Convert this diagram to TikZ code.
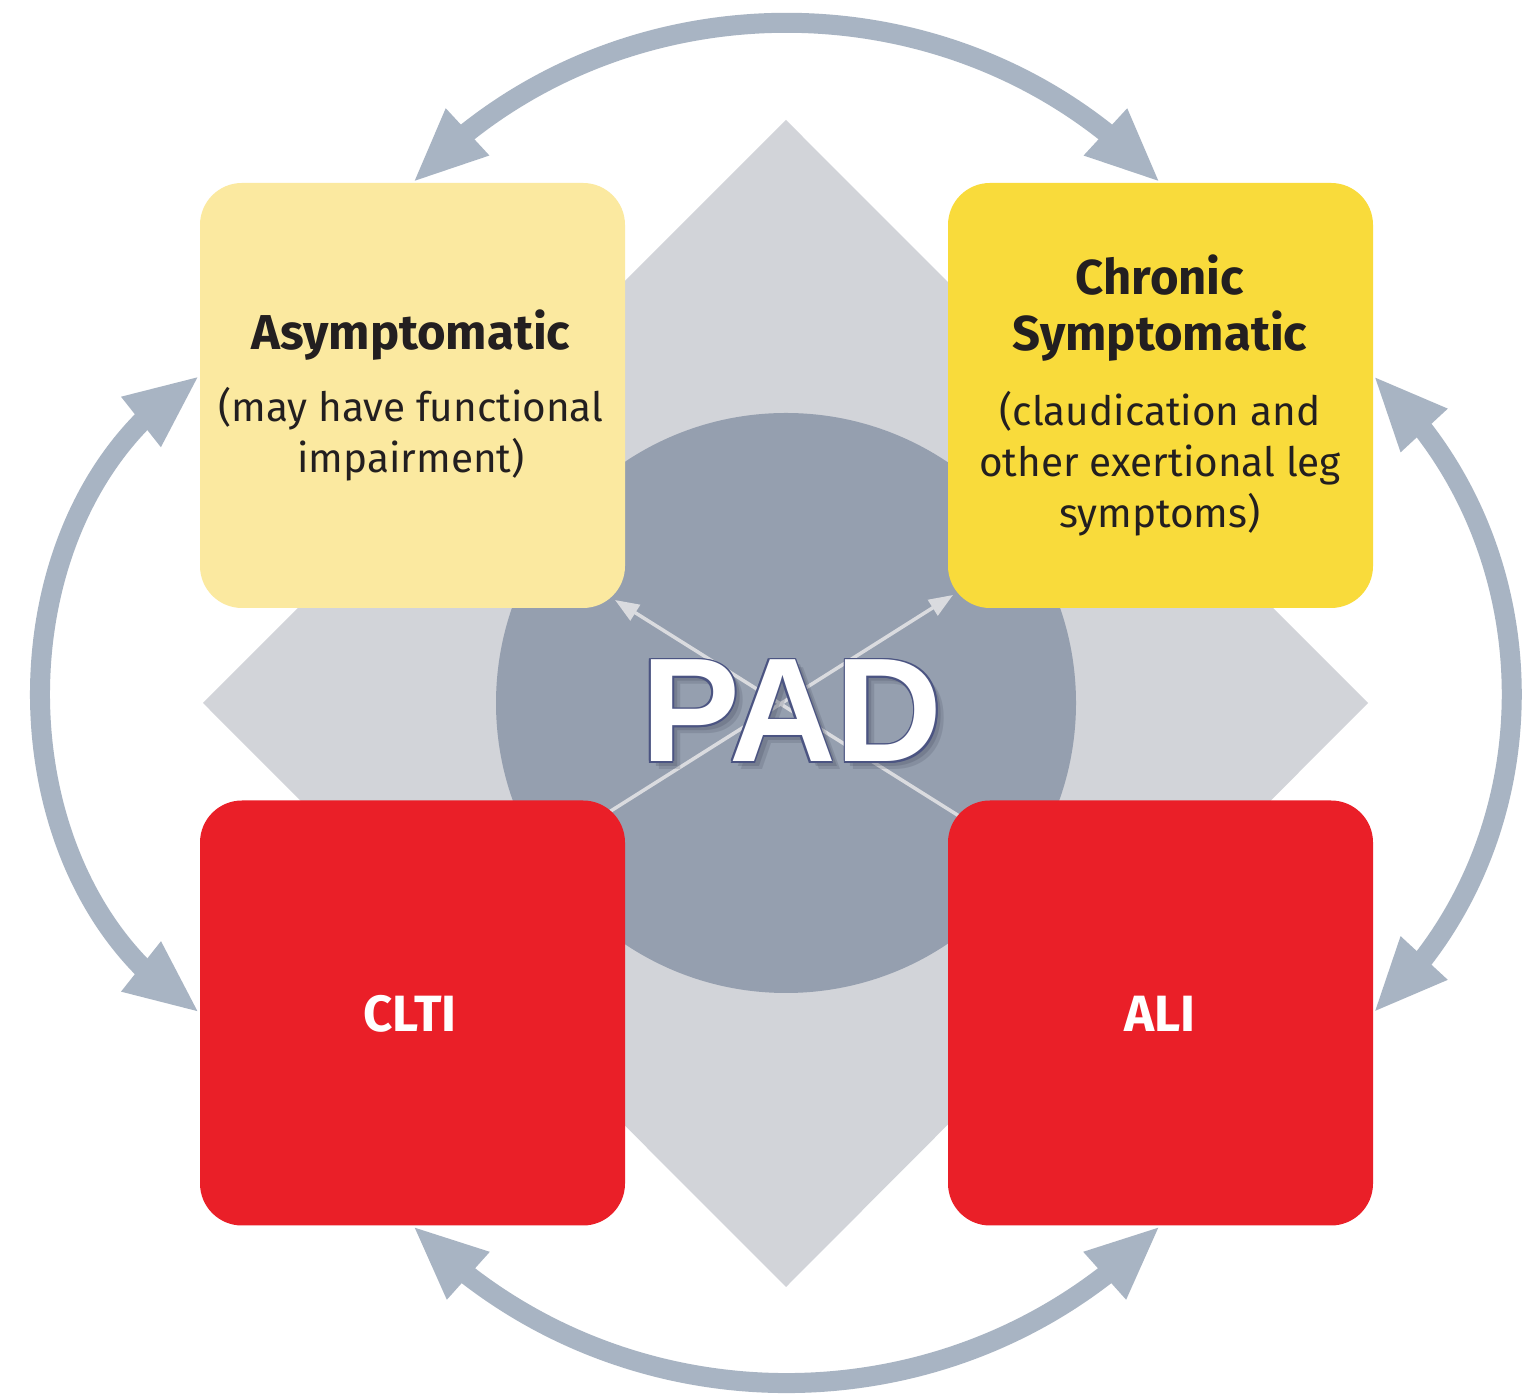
\documentclass[tikz,border=0pt]{standalone}
\usepackage{fontspec}
\setmainfont{Fira Sans}
\newfontfamily\padfont{Liberation Sans}
\usetikzlibrary{arrows.meta,bending}
\definecolor{diamondgray}{HTML}{D2D4D9}
\definecolor{circlegray}{HTML}{959FAF}
\definecolor{asymfill}{HTML}{FBE9A0}
\definecolor{chronfill}{HTML}{F9DB3B}
\definecolor{redfill}{HTML}{EA1F28}
\definecolor{arcgray}{HTML}{A8B4C3}
\definecolor{txtdark}{HTML}{231F20}
\definecolor{thingray}{HTML}{DADBDF}
\definecolor{padoutline}{HTML}{4B5482}
\definecolor{padshadow}{HTML}{3E4558}
\begin{document}
\begin{tikzpicture}[x=1pt,y=1pt,
  cycarrow/.style={line width=20pt, draw=arcgray,
    {Triangle[length=75pt,width=58pt]}-{Triangle[length=75pt,width=58pt]}},
  stagebox/.style={minimum width=425pt, minimum height=425pt, rounded corners=42pt, inner sep=0pt, draw=none},
  titletext/.style={font=\fontsize{49}{58}\selectfont\bfseries, text=txtdark, anchor=base, inner sep=0pt},
  subtext/.style={font=\fontsize{40.5}{51}\selectfont, text=txtdark, anchor=base, inner sep=0pt},
  redtext/.style={font=\fontsize{51}{60}\selectfont\bfseries, text=white, anchor=base, inner sep=0pt},
  thinarrow/.style={line width=3.5pt, draw=thingray, -{Triangle[length=24pt,width=18pt]}},
  padtext/.style={font=\fontsize{148}{160}\selectfont\padfont\bfseries, anchor=base, inner sep=0pt},
]
\useasboundingbox (0,0) rectangle (1525,1397);
\fill[white] (0,0) rectangle (1525,1397);
% background shapes
\fill[diamondgray] (786,1277) -- (1368,694) -- (786,110) -- (203,694) -- cycle;
\fill[circlegray] (786,694) circle (290);
% thin arrows (ends hidden under the boxes)
\coordinate (tAstart) at (606,583);
\coordinate (tAend) at (953,802);
\coordinate (tBstart) at (967,576);
\coordinate (tBend) at (615,797);
\draw[thinarrow] (tAstart) -- (tAend);
\draw[thinarrow] (tBstart) -- (tBend);
% stage boxes
\node[stagebox, fill=asymfill] (asym) at (412.5,1001.5) {};
\node[stagebox, fill=chronfill] (chron) at (1160.5,1001.5) {};
\node[stagebox, fill=redfill] (clti) at (412.5,384) {};
\node[stagebox, fill=redfill] (ali) at (1160.5,384) {};
% texts
\node[titletext] (asymtitle) at (411,1047) {Asymptomatic};
\node[subtext] (asymsubA) at (411,975) {(may have functional};
\node[subtext] (asymsubB) at (411,924) {impairment)};
\node[titletext] (chrontitleA) at (1160,1102) {Chronic};
\node[titletext] (chrontitleB) at (1160,1046) {Symptomatic};
\node[subtext] (chronsubA) at (1160,971) {(claudication and};
\node[subtext] (chronsubB) at (1160,920) {other exertional leg};
\node[subtext] (chronsubC) at (1160,869) {symptoms)};
\node[redtext] (cltitext) at (410,365) {CLTI};
\node[redtext] (alitext) at (1160,365) {ALI};
% cycle arrows
\draw[cycarrow] (asym.north) to[bend left=47] (chron.north);
\draw[cycarrow] ([yshift=20pt]chron.east) to[bend left=48] (ali.east);
\draw[cycarrow] (clti.south) to[bend right=46] (ali.south);
\draw[cycarrow] ([yshift=20pt]asym.west) to[bend right=59] (clti.west);
% PAD
\node[padtext, text=padshadow, opacity=0.18] (padsh1) at (800,627) {PAD};
\node[padtext, text=padshadow, opacity=0.22] (padsh2) at (797,630) {PAD};
\foreach \dx/\dy [count=\i] in {1.8/0,-1.8/0,0/1.8,0/-1.8,1.3/1.3,-1.3/1.3,1.3/-1.3,-1.3/-1.3}
  \node[padtext, text=padoutline] (pado\i) at (792+\dx,635+\dy) {PAD};
\node[padtext, text=white] (pad) at (792,635) {PAD};
\end{tikzpicture}
\end{document}
